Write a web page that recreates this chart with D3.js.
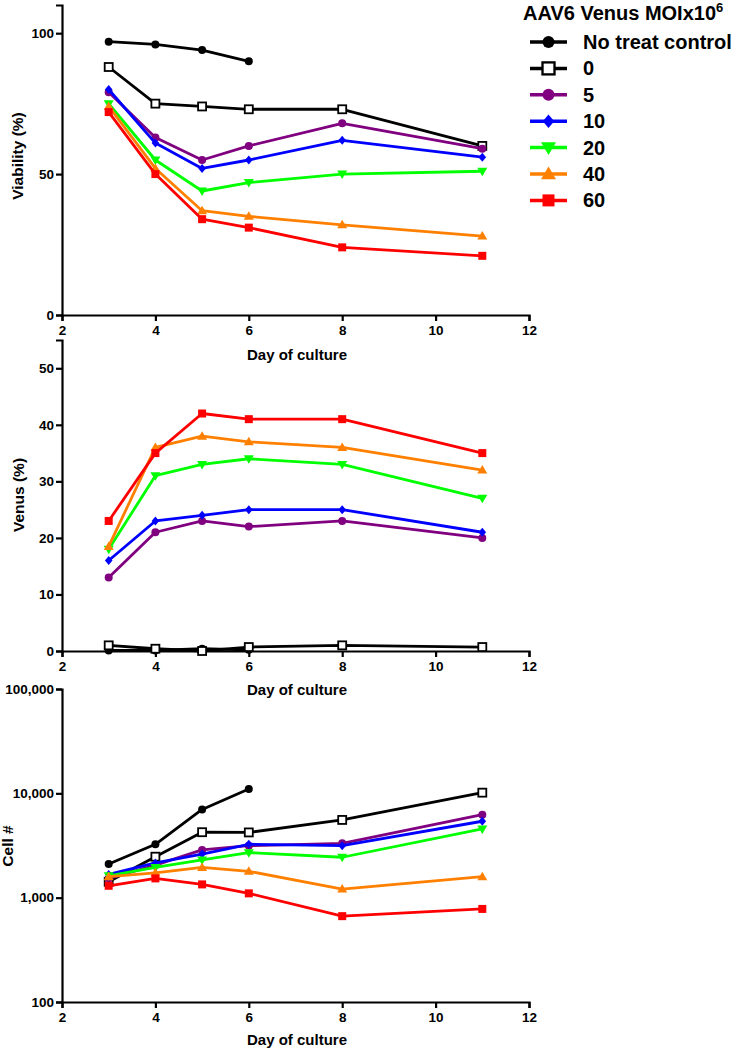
<!DOCTYPE html>
<html><head><meta charset="utf-8">
<script src="https://cdn.jsdelivr.net/npm/d3@7"></script>
<style>
body{margin:0;background:#fff}
text{font-family:"Liberation Sans",Arial,Helvetica,sans-serif;font-weight:bold;fill:#000}
</style>
</head><body>
<svg id="c" width="740" height="1050"></svg>
<script>
// ---------- data ----------
const days = [3, 4, 5, 6, 8, 11];
const xTicks = [2, 4, 6, 8, 10, 12];
const seriesNames = ["No treat control", "0", "5", "10", "20", "40", "60"];
const seriesColors = ["#000000", "#000000", "#800080", "#0000ff", "#00ff00", "#ff8000", "#ff0000"];
const seriesShapes = ["circle", "openSquare", "circle", "diamond", "triDown", "triUp", "square"];
const legendTitle = "AAV6 Venus MOIx10";
const legendSup = "6";
const xTitle = "Day of culture";

// Viability (%)
const viabNoTreat = [97, 96, 94, 90, null, null];
const viab0  = [88, 75, 74, 73, 73, 60];
const viab5  = [79, 63, 55, 60, 68, 59];
const viab10 = [80, 61, 52, 55, 62, 56];
const viab20 = [75, 55, 44, 47, 50, 51];
const viab40 = [74, 52, 37, 35, 32, 28];
const viab60 = [72, 50, 34, 31, 24, 21];
const viabTicks = [0, 50, 100];

// Venus (%)
const venusNoTreat = [0.1, 0.1, 0.4, 0.2, null, null];
const venus0  = [1.0, 0.4, 0.0, 0.7, 1.0, 0.7];
const venus5  = [13, 21, 23, 22, 23, 20];
const venus10 = [16, 23, 24, 25, 25, 21];
const venus20 = [18, 31, 33, 34, 33, 27];
const venus40 = [18.5, 36, 38, 37, 36, 32];
const venus60 = [23, 35, 42, 41, 41, 35];
const venusTicks = [0, 10, 20, 30, 40, 50];

// Cell #
const cellNoTreat = [2100, 3250, 7000, 11000, null, null];
const cell0  = [1420, 2470, 4240, 4220, 5560, 10150];
const cell5  = [1530, 2050, 2870, 3150, 3320, 6250];
const cell10 = [1670, 2150, 2620, 3250, 3150, 5400];
const cell20 = [1620, 1950, 2300, 2700, 2440, 4560];
const cell40 = [1590, 1730, 1950, 1790, 1210, 1590];
const cell60 = [1300, 1530, 1340, 1100, 665, 780];
const cellTicks = [100, 1000, 10000, 100000];

// ---------- drawing ----------
const svg = d3.select("#c");
const x = d3.scaleLinear().domain([2, 12]).range([62, 529]);

function marker(g, shape, color, cx, cy, s) {
  if (shape === "circle") {
    g.append("circle").attr("cx", cx).attr("cy", cy).attr("r", 4 * s).attr("fill", color);
  } else if (shape === "openSquare") {
    const h = 4 * s;
    g.append("rect").attr("x", cx - h).attr("y", cy - h).attr("width", 2 * h).attr("height", 2 * h)
      .attr("fill", "#fff").attr("stroke", color).attr("stroke-width", 1.8 * Math.min(s, 1.3));
  } else if (shape === "square") {
    const h = 4 * s;
    g.append("rect").attr("x", cx - h).attr("y", cy - h).attr("width", 2 * h).attr("height", 2 * h).attr("fill", color);
  } else {
    let p;
    if (shape === "diamond") p = [[0, -4.5], [3.8, 0], [0, 4.5], [-3.8, 0]];
    if (shape === "triUp") p = [[0, -5], [5, 3.5], [-5, 3.5]];
    if (shape === "triDown") p = [[0, 5], [5, -3.5], [-5, -3.5]];
    g.append("path").attr("d", "M" + p.map(q => [cx + q[0] * s, cy + q[1] * s].join(",")).join("L") + "Z")
      .attr("fill", color);
  }
}

function panel(y, yTicks, yFmt, seriesData, yTitle, yTitleX, yTitleY, xTitleY) {
  const g = svg.append("g");
  const yAxis = d3.axisLeft(y).tickValues(yTicks).tickFormat(yFmt).tickSize(6).tickPadding(2);
  const xAxis = d3.axisBottom(x).tickValues(xTicks).tickFormat(d3.format("d")).tickSize(6).tickPadding(4);
  const y0 = y.range()[0];
  const ga = g.append("g").attr("transform", `translate(0,${y0})`).call(xAxis);
  const gb = g.append("g").attr("transform", `translate(${x.range()[0]},0)`).call(yAxis);
  [ga, gb].forEach(a => {
    a.select(".domain").attr("stroke", "#000").attr("stroke-width", 2.2);
    a.selectAll(".tick line").attr("stroke", "#000").attr("stroke-width", 2.2);
    a.selectAll(".tick text").style("font-size", "13.5px").attr("fill", "#000")
      .style("font-family", '"Liberation Sans",Arial,sans-serif').style("font-weight", "bold");
  });
  // x title
  g.append("text").attr("x", 297).attr("y", xTitleY).attr("text-anchor", "middle")
    .style("font-size", "15px").text(xTitle);
  // y title
  g.append("text").attr("transform", `translate(${yTitleX},${yTitleY}) rotate(-90)`)
    .attr("text-anchor", "middle").attr("dy", "0.35em").style("font-size", "15.5px").text(yTitle);

  seriesData.forEach((vals, i) => {
    const pts = days.map((d, k) => [d, vals[k]]).filter(p => p[1] !== null && p[1] !== undefined);
    const line = d3.line().x(p => x(p[0])).y(p => y(Math.max(p[1], y.domain()[0])));
    g.append("path").attr("d", line(pts)).attr("fill", "none")
      .attr("stroke", seriesColors[i]).attr("stroke-width", 2.8).attr("stroke-linejoin", "round");
    const mg = g.append("g");
    pts.forEach(p => marker(mg, seriesShapes[i], seriesColors[i], x(p[0]), y(Math.max(p[1], y.domain()[0])), 1));
  });
}

// Panel 1: Viability
panel(d3.scaleLinear().domain([0, 110]).range([315, 5]), viabTicks, d3.format("d"),
  [viabNoTreat, viab0, viab5, viab10, viab20, viab40, viab60],
  "Viability (%)", 18, 156, 360);

// Panel 2: Venus
panel(d3.scaleLinear().domain([0, 55]).range([651, 340]), venusTicks, d3.format("d"),
  [venusNoTreat, venus0, venus5, venus10, venus20, venus40, venus60],
  "Venus (%)", 19, 495, 695);

// Panel 3: Cell #
panel(d3.scaleLog().domain([100, 100000]).range([1002, 689]), cellTicks, d3.format(","),
  [cellNoTreat, cell0, cell5, cell10, cell20, cell40, cell60],
  "Cell #", 8, 846, 1045);

// Legend
const lg = svg.append("g");
const lt = lg.append("text").attr("x", 523).attr("y", 20).style("font-size", "20px").text(legendTitle);
lt.append("tspan").attr("dy", -8).style("font-size", "13px").text(legendSup);
seriesNames.forEach((n, i) => {
  const cy = 42 + i * 26.4;
  lg.append("line").attr("x1", 530).attr("x2", 567).attr("y1", cy).attr("y2", cy)
    .attr("stroke", seriesColors[i]).attr("stroke-width", 3.5);
  marker(lg, seriesShapes[i], seriesColors[i], 548.5, cy, 1.5);
  lg.append("text").attr("x", 583).attr("y", cy + 7).style("font-size", "20px").text(n);
});
</script>
</body></html>
